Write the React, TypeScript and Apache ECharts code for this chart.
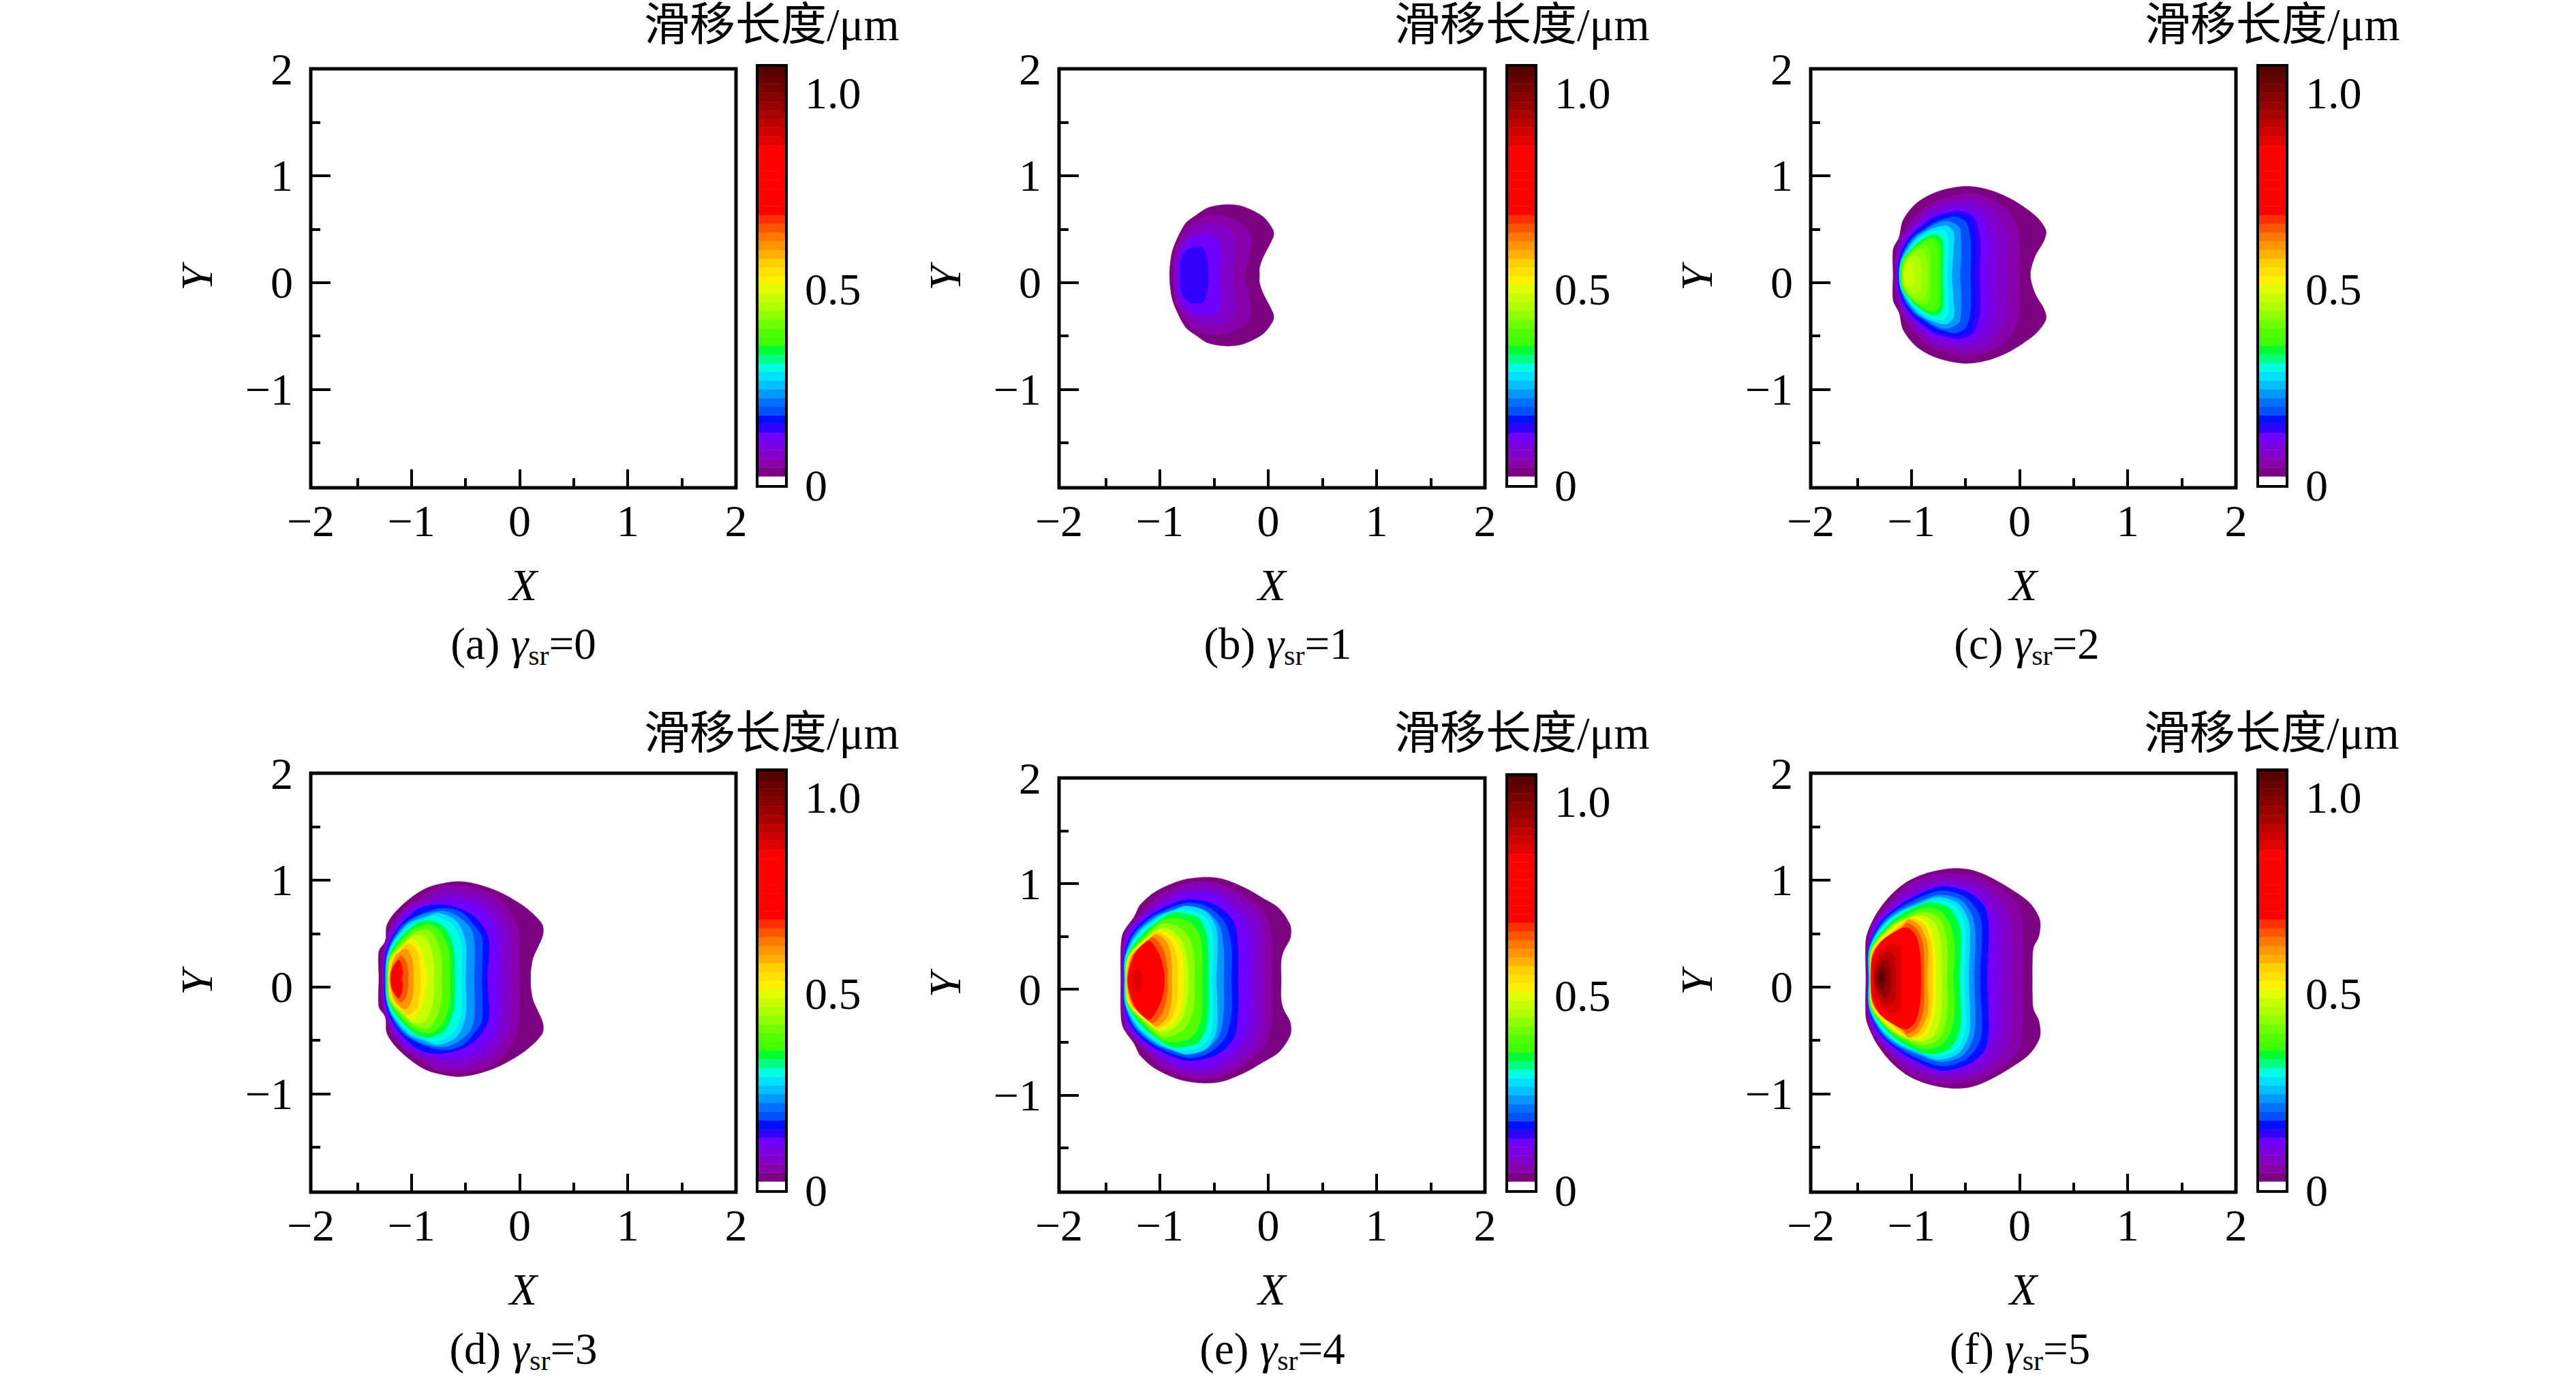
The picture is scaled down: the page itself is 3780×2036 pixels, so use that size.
import React, { useEffect, useRef } from "react";
import * as echarts from "echarts";

const FONT = '"Liberation Serif","Noto Sans CJK SC",serif';

// colour-bar bands, from the bottom of the bar to the top
const bandColors = [
  "#ffffff", "#7b0082", "#8800aa", "#8000c8", "#7a00e0", "#7000ff", "#3000ff", "#0010ff", "#0050ff", "#0070ff",
  "#0098ff", "#00c0ff", "#00e0ff", "#00ffe0", "#00ff80", "#00ff30", "#40ff00", "#50ff00", "#70ff00", "#90ff00",
  "#b0ff00", "#c8ff00", "#e0ff00", "#fff000", "#ffe000", "#ffd000", "#ffb000", "#ff9500", "#ff7800", "#ff5500",
  "#ff3000", "#ff0000", "#ff0000", "#ff0000", "#ff0000", "#ff0000", "#ff0000", "#ff0000", "#ff0000", "#e00000",
  "#d00000", "#c00000", "#a80000", "#980000", "#880000", "#780000", "#680000", "#580000",
];
const bandStep = 0.0222;
const colorBarMax = 1.066;
const colorBarTicks = [0, 0.5, 1];

const xMajor = [-1, 0, 1];
const xMinor = [-1.5, -0.5, 0.5, 1.5];
const xLabels = [-1.93, -1, 0, 1, 2];
const yMajor = [-1, 0, 1];
const yMinor = [-1.5, -0.5, 0.5, 1.5];
const yLabels = [-1, 0, 1, 2];
const axisMin = -1.93;
const axisMax = 2;

// Each row: colour-band index, then x,y pairs of the upper half of that contour,
// from its left end round the top to its right end, in axis units.
type Row = number[];
const contoursA: Row[] = [];
const contoursB: Row[] = [
  [1, -.91,.068, -.893,.255, -.857,.372, -.763,.553, -.668,.628, -.553,.702, -.384,.73, -.237,.713, -.048,.617, .046,.49, .046,.425, -.048,.234, -.08,.138, -.08,.068],
  [2, -.878,.068, -.866,.28, -.77,.49, -.63,.596, -.468,.628, -.3,.585, -.164,.457, -.174,.266, -.216,.068],
  [3, -.857,.068, -.84,.27, -.77,.42, -.64,.52, -.47,.543, -.335,.48, -.3,.33, -.32,.068],
  [5, -.836,.068, -.83,.23, -.78,.35, -.7,.42, -.56,.45, -.46,.4, -.43,.25, -.447,.068],
  [6, -.81,.068, -.805,.2, -.763,.29, -.69,.33, -.6,.32, -.56,.2, -.553,.068],
];
const contoursC: Row[] = [
  [1, -1.168,.072, -1.168,.31, -1.113,.425, -1.076,.585, -.95,.745, -.76,.85, -.508,.9, -.298,.872, -.088,.787, .143,.628, .244,.49, .227,.394, .143,.245, .1,.072],
  [2, -1.15,.072, -1.15,.2, -1.12,.36, -1.07,.47, -.98,.6, -.85,.72, -.7,.79, -.5,.83, -.3,.8, -.12,.69, -.02,.52, 0,.3, 0,.072],
  [3, -1.14,.072, -1.14,.2, -1.1,.36, -1.04,.48, -.96,.58, -.84,.69, -.69,.75, -.52,.785, -.33,.75, -.2,.63, -.12,.46, -.11,.27, -.11,.072],
  [4, -1.135,.072, -1.13,.2, -1.09,.36, -1.02,.47, -.94,.56, -.82,.66, -.69,.71, -.53,.74, -.37,.7, -.27,.58, -.21,.42, -.21,.072],
  [5, -1.13,.072, -1.12,.2, -1.08,.36, -1,.48, -.92,.55, -.8,.64, -.68,.675, -.55,.7, -.42,.66, -.33,.54, -.29,.38, -.3,.072],
  [6, -1.125,.072, -1.115,.2, -1.07,.34, -.99,.46, -.9,.54, -.78,.62, -.68,.65, -.57,.67, -.44,.63, -.38,.5, -.36,.34, -.37,.072],
  [7, -1.12,.072, -1.11,.2, -1.06,.34, -.98,.45, -.89,.52, -.78,.6, -.68,.625, -.58,.638, -.47,.6, -.42,.47, -.41,.3, -.42,.072],
  [8, -1.118,.072, -1.105,.2, -1.05,.34, -.97,.44, -.88,.5, -.77,.57, -.68,.6, -.6,.617, -.5,.57, -.46,.45, -.45,.28, -.455,.072],
  [10, -1.115,.072, -1.1,.2, -1.04,.33, -.96,.43, -.87,.49, -.77,.55, -.67,.575, -.56,.52, -.54,.4, -.54,.24, -.55,.072],
  [12, -1.11,.072, -1.095,.2, -1.03,.32, -.95,.42, -.86,.48, -.76,.52, -.67,.53, -.61,.47, -.61,.32, -.625,.072],
  [13, -1.105,.072, -1.09,.2, -1.02,.31, -.94,.4, -.85,.46, -.76,.49, -.7,.49, -.66,.42, -.66,.25, -.666,.072],
  [15, -1.1,.072, -1.085,.2, -1.01,.3, -.93,.38, -.85,.43, -.78,.45, -.72,.41, -.705,.3, -.71,.072],
  [16, -1.095,.072, -1.08,.2, -1.01,.29, -.93,.36, -.85,.41, -.79,.42, -.74,.36, -.73,.25, -.73,.072],
  [17, -1.09,.072, -1.075,.2, -1.01,.28, -.94,.34, -.87,.38, -.81,.39, -.77,.33, -.76,.22, -.76,.072],
  [18, -1.085,.072, -1.07,.19, -1.02,.27, -.95,.33, -.89,.35, -.84,.33, -.82,.25, -.82,.072],
  [19, -1.08,.072, -1.065,.18, -1.02,.25, -.96,.3, -.91,.31, -.87,.27, -.85,.18, -.85,.072],
  [20, -1.078,.072, -1.06,.17, -1.03,.22, -.98,.25, -.93,.23, -.905,.15, -.905,.072],
  [21, -1.07,.072, -1.06,.14, -1.03,.19, -1,.18, -.975,.12, -.97,.072],
];
const contoursD: Row[] = [
  [1, -1.3,.074, -1.3,.333, -1.24,.43, -1.23,.567, -1.18,.662, -1.07,.78, -.916,.896, -.79,.95, -.58,.987, -.41,.966, -.18,.885, .05,.747, .208,.588, .214,.482, .124,.27, .103,.142, .103,.074],
  [2, -1.27,.074, -1.27,.27, -1.245,.418, -1.18,.588, -1.06,.737, -.88,.86, -.73,.94, -.55,.95, -.38,.92, -.18,.82, -.04,.62, 0,.4, 0,.074],
  [3, -1.265,.074, -1.265,.27, -1.235,.418, -1.165,.588, -1.04,.737, -.87,.82, -.73,.89, -.57,.905, -.41,.87, -.23,.77, -.11,.58, -.075,.35, -.075,.074],
  [4, -1.26,.074, -1.26,.27, -1.225,.418, -1.15,.588, -1.01,.737, -.86,.79, -.73,.84, -.59,.855, -.44,.82, -.27,.72, -.17,.55, -.15,.33, -.15,.074],
  [5, -1.255,.074, -1.255,.27, -1.215,.418, -1.135,.588, -.98,.737, -.86,.78, -.72,.81, -.6,.82, -.46,.78, -.31,.69, -.22,.53, -.2,.31, -.2,.074],
  [7, -1.25,.074, -1.24,.27, -1.2,.418, -1.095,.588, -.92,.737, -.73,.77, -.55,.73, -.41,.65, -.29,.46, -.3,.074],
  [8, -1.245,.074, -1.235,.27, -1.19,.418, -1.075,.588, -.87,.7, -.7,.737, -.54,.7, -.43,.59, -.35,.46, -.35,.074],
  [10, -1.24,.074, -1.23,.27, -1.18,.418, -1.05,.588, -.88,.68, -.7,.71, -.57,.66, -.46,.56, -.42,.43, -.42,.074],
  [12, -1.235,.074, -1.225,.27, -1.17,.418, -1.03,.588, -.88,.65, -.75,.69, -.58,.61, -.5,.42, -.5,.074],
  [13, -1.23,.074, -1.22,.27, -1.16,.418, -1.01,.57, -.88,.63, -.78,.66, -.62,.58, -.54,.4, -.54,.074],
  [15, -1.228,.074, -1.21,.27, -1.135,.418, -.96,.588, -.83,.62, -.685,.545, -.61,.355, -.6,.074],
  [17, -1.22,.074, -1.205,.27, -1.11,.418, -.98,.54, -.82,.58, -.72,.5, -.65,.33, -.64,.074],
  [19, -1.215,.074, -1.2,.27, -1.08,.418, -.97,.51, -.85,.535, -.77,.44, -.72,.25, -.72,.074],
  [21, -1.212,.074, -1.19,.27, -1.05,.418, -.98,.482, -.88,.47, -.82,.36, -.79,.2, -.79,.074],
  [23, -1.21,.074, -1.18,.27, -1.07,.38, -1,.45, -.916,.355, -.863,.142, -.853,.074],
  [25, -1.205,.074, -1.17,.27, -1.09,.36, -1.03,.41, -.95,.34, -.92,.18, -.916,.074],
  [27, -1.2,.074, -1.155,.27, -1.09,.34, -1.05,.355, -1,.28, -.98,.16, -.98,.074],
  [29, -1.195,.074, -1.17,.2, -1.13,.26, -1.095,.29, -1.05,.24, -1.03,.14, -1.03,.074],
  [31, -1.19,.074, -1.18,.16, -1.115,.25, -1.08,.14, -1.09,.074],
];
const contoursE: Row[] = [
  [1, -1.36,.086, -1.36,.38, -1.34,.53, -1.235,.69, -1.18,.8, -1.036,.927, -.805,1.03, -.595,1.06, -.426,1.045, -.216,.96, -.048,.862, .1,.766, .204,.604, .204,.486, .14,.357, .12,.27, .12,.086],
  [2, -1.35,.086, -1.35,.314, -1.32,.53, -1.2,.69, -1.02,.88, -.8,.99, -.6,1.02, -.42,.99, -.22,.89, -.03,.72, .03,.5, .036,.3, .036,.086],
  [3, -1.345,.086, -1.345,.314, -1.31,.53, -1.18,.69, -1,.85, -.8,.95, -.6,.985, -.44,.95, -.26,.85, -.09,.68, -.04,.46, -.04,.086],
  [4, -1.342,.086, -1.34,.314, -1.3,.53, -1.165,.69, -.99,.82, -.8,.92, -.62,.95, -.46,.91, -.3,.8, -.15,.64, -.11,.44, -.11,.086],
  [5, -1.34,.086, -1.335,.314, -1.288,.53, -1.15,.69, -.98,.8, -.8,.89, -.64,.915, -.48,.88, -.34,.78, -.21,.6, -.175,.4, -.175,.086],
  [7, -1.334,.086, -1.33,.314, -1.256,.53, -1.1,.69, -.9,.8, -.72,.85, -.47,.787, -.32,.637, -.28,.4, -.28,.086],
  [8, -1.332,.086, -1.325,.314, -1.24,.53, -1.07,.69, -.88,.78, -.72,.82, -.54,.77, -.4,.63, -.34,.4, -.34,.086],
  [10, -1.328,.086, -1.32,.314, -1.225,.53, -1.04,.69, -.86,.76, -.74,.79, -.57,.74, -.45,.6, -.41,.35, -.41,.086],
  [12, -1.324,.086, -1.315,.314, -1.204,.53, -1.015,.69, -.87,.75, -.76,.787, -.573,.733, -.48,.57, -.47,.314, -.48,.086],
  [13, -1.322,.086, -1.31,.314, -1.19,.53, -.98,.69, -.85,.74, -.78,.755, -.6,.7, -.52,.55, -.51,.3, -.52,.086],
  [15, -1.315,.086, -1.3,.314, -1.15,.53, -.99,.66, -.89,.72, -.805,.72, -.64,.67, -.563,.486, -.553,.086],
  [17, -1.313,.086, -1.295,.314, -1.12,.53, -1,.64, -.93,.67, -.83,.67, -.7,.62, -.62,.46, -.61,.086],
  [19, -1.31,.086, -1.29,.314, -1.09,.53, -1.02,.6, -.95,.625, -.85,.6, -.75,.52, -.69,.36, -.68,.086],
  [21, -1.31,.086, -1.285,.314, -1.07,.53, -.97,.58, -.87,.54, -.78,.42, -.74,.2, -.74,.086],
  [23, -1.308,.086, -1.28,.314, -1.05,.53, -1,.56, -.87,.486, -.795,.314, -.784,.086],
  [25, -1.305,.086, -1.27,.314, -1.1,.48, -1.02,.54, -.9,.46, -.84,.28, -.835,.086],
  [27, -1.302,.086, -1.26,.314, -1.12,.45, -1.03,.52, -.93,.43, -.89,.25, -.89,.086],
  [29, -1.3,.086, -1.25,.314, -1.14,.44, -1.06,.49, -.97,.38, -.93,.2, -.93,.086],
  [31, -1.296,.086, -1.24,.314, -1.16,.42, -1.09,.455, -1,.314, -.96,.16, -.96,.086],
  [39, -1.25,.086, -1.245,.16, -1.2,.2, -1.17,.16, -1.16,.086],
];
const contoursF: Row[] = [
  [1, -1.42,.08, -1.42,.44, -1.38,.57, -1.31,.705, -1.185,.864, -1.03,.99, -.84,1.07, -.63,1.108, -.46,1.098, -.31,1.045, -.1,.928, .09,.79, .187,.63, .18,.48, .128,.365, .118,.2, .118,.08],
  [2, -1.41,.08, -1.408,.355, -1.37,.567, -1.29,.694, -1.03,.96, -.73,1.065, -.4,1.03, -.19,.93, 0,.74, .03,.46, .03,.08],
  [3, -1.408,.08, -1.405,.355, -1.36,.567, -1.27,.694, -1.02,.92, -.73,1.02, -.42,.99, -.25,.88, -.1,.7, -.07,.42, -.07,.08],
  [4, -1.405,.08, -1.4,.355, -1.35,.567, -1.255,.694, -1.01,.88, -.73,.98, -.45,.95, -.3,.85, -.18,.66, -.155,.4, -.155,.08],
  [5, -1.403,.08, -1.398,.355, -1.34,.567, -1.24,.694, -1,.85, -.73,.95, -.48,.92, -.35,.82, -.25,.63, -.23,.38, -.23,.08],
  [7, -1.4,.08, -1.395,.355, -1.31,.567, -1.195,.694, -.98,.84, -.72,.94, -.48,.885, -.33,.76, -.29,.59, -.3,.08],
  [8, -1.398,.08, -1.393,.355, -1.3,.567, -1.175,.694, -.96,.82, -.72,.9, -.52,.85, -.4,.73, -.35,.58, -.365,.08],
  [10, -1.395,.08, -1.39,.355, -1.285,.567, -1.15,.694, -.95,.79, -.74,.86, -.54,.81, -.44,.67, -.41,.5, -.42,.08],
  [12, -1.39,.08, -1.385,.355, -1.27,.567, -1.12,.694, -.93,.78, -.75,.84, -.565,.78, -.47,.61, -.46,.42, -.47,.08],
  [13, -1.387,.08, -1.382,.355, -1.26,.567, -1.1,.694, -.92,.76, -.77,.81, -.6,.76, -.51,.6, -.5,.4, -.51,.08],
  [15, -1.382,.08, -1.375,.355, -1.225,.567, -1.07,.694, -.93,.76, -.82,.79, -.65,.74, -.555,.567, -.545,.355, -.555,.08],
  [17, -1.38,.08, -1.37,.355, -1.205,.567, -1.03,.68, -.88,.74, -.72,.7, -.63,.56, -.6,.35, -.61,.08],
  [19, -1.38,.08, -1.365,.355, -1.19,.567, -1.04,.65, -.9,.7, -.76,.66, -.69,.53, -.665,.33, -.67,.08],
  [21, -1.378,.08, -1.36,.355, -1.17,.567, -1.05,.63, -.91,.67, -.8,.62, -.74,.49, -.72,.3, -.72,.08],
  [23, -1.377,.08, -1.355,.355, -1.15,.567, -1.05,.62, -.94,.65, -.85,.59, -.8,.46, -.775,.29, -.775,.08],
  [25, -1.376,.08, -1.35,.355, -1.12,.567, -1.03,.63, -.98,.64, -.88,.58, -.82,.42, -.805,.25, -.805,.08],
  [27, -1.375,.08, -1.34,.355, -1.09,.567, -1.03,.63, -.97,.61, -.92,.567, -.85,.4, -.85,.08],
  [29, -1.375,.08, -1.325,.355, -1.2,.47, -1.07,.567, -1.04,.6, -.95,.54, -.89,.38, -.88,.08],
  [31, -1.374,.08, -1.363,.27, -1.3,.4, -1.21,.48, -1.05,.556, -.96,.48, -.92,.31, -.91,.08],
  [39, -1.35,.08, -1.34,.25, -1.22,.39, -1.11,.39, -1.09,.13, -1.09,.08],
  [41, -1.345,.08, -1.32,.22, -1.24,.33, -1.16,.3, -1.14,.15, -1.14,.08],
  [43, -1.335,.08, -1.31,.19, -1.25,.26, -1.2,.22, -1.185,.12, -1.185,.08],
  [45, -1.32,.08, -1.3,.16, -1.26,.19, -1.24,.14, -1.23,.08],
  [47, -1.3,.08, -1.29,.12, -1.265,.13, -1.26,.08],
];

const panelLetters = ["a", "b", "c", "d", "e", "f"];
const panelGamma = [0, 1, 2, 3, 4, 5];
const panelContours = [contoursA, contoursB, contoursC, contoursD, contoursE, contoursF];

// page layout of the six panels, in pixels
const frames = [
  { l: 456, r: 1080, t: 101, b: 716, cl: 1113, cr: 1152, ct: 98, cb: 712, capX: 768, capY: 945, unitX: 945, unitY: 36 },
  { l: 1554, r: 2179, t: 101, b: 716, cl: 2213, cr: 2252, ct: 98, cb: 712, capX: 1875, capY: 945, unitX: 2046, unitY: 36 },
  { l: 2657, r: 3281, t: 101, b: 716, cl: 3315, cr: 3354, ct: 98, cb: 712, capX: 2974, capY: 945, unitX: 3147, unitY: 36 },
  { l: 456, r: 1080, t: 1135, b: 1750, cl: 1113, cr: 1152, ct: 1132, cb: 1747, capX: 768, capY: 1980, unitX: 945, unitY: 1076 },
  { l: 1554, r: 2179, t: 1142, b: 1750, cl: 2213, cr: 2252, ct: 1139, cb: 1747, capX: 1867, capY: 1980, unitX: 2046, unitY: 1076 },
  { l: 2657, r: 3281, t: 1135, b: 1750, cl: 3315, cr: 3354, ct: 1132, cb: 1747, capX: 2964, capY: 1980, unitX: 3146, unitY: 1076 },
];

const FS = 66;
const CAP = 65;
const fmtMain = (v: number) => {
  if (v < -1.5) return "\u22122";
  if (v < 0) return "\u2212" + Math.abs(v);
  return String(v);
};

function halfToPolygon(row: Row): number[][] {
  const top: number[][] = [];
  for (let i = 1; i + 1 < row.length; i += 2) top.push([row[i], row[i + 1]]);
  const yc = top[0][1];
  const bottom = top.slice(1, -1).reverse().map(([x, y]) => [x, 2 * yc - y]);
  return top.concat(bottom);
}

function buildOption() {
  const grid: any[] = [];
  const xAxis: any[] = [];
  const yAxis: any[] = [];
  const series: any[] = [];
  const graphic: any[] = [];

  frames.forEach((f, i) => {
    const mainGrid = grid.length;
    grid.push({
      left: f.l, top: f.t, width: f.r - f.l, height: f.b - f.t, show: true,
      borderColor: "#000", borderWidth: 5, backgroundColor: "#fff", containLabel: false, outerBoundsMode: "none",
    });
    const barGrid = grid.length;
    grid.push({
      left: f.cl, top: f.ct, width: f.cr - f.cl, height: f.cb - f.ct, show: true,
      borderColor: "#000", borderWidth: 8, backgroundColor: "#fff", containLabel: false, outerBoundsMode: "none",
    });

    const mainX = xAxis.length;
    xAxis.push({
      type: "value", gridIndex: mainGrid, position: "bottom", min: axisMin, max: axisMax, splitLine: { show: false },
      axisLine: { show: false, onZero: false },
      axisTick: { show: true, inside: true, length: 27, lineStyle: { color: "#000", width: 4 }, customValues: xMajor },
      axisLabel: { show: true, customValues: xLabels, formatter: fmtMain, margin: 15, fontSize: FS, fontFamily: FONT, color: "#000", hideOverlap: false },
      name: "X", nameLocation: "middle", nameGap: 109,
      nameTextStyle: { fontSize: FS, fontFamily: FONT, fontStyle: "italic", color: "#000" },
    });
    xAxis.push({
      type: "value", gridIndex: mainGrid, position: "bottom", min: axisMin, max: axisMax, splitLine: { show: false },
      axisLine: { show: false, onZero: false }, axisLabel: { show: false },
      axisTick: { show: true, inside: true, length: 14, lineStyle: { color: "#000", width: 4 }, customValues: xMinor },
    });
    const barX = xAxis.length;
    xAxis.push({ type: "value", gridIndex: barGrid, min: 0, max: 1, show: false });

    const mainY = yAxis.length;
    yAxis.push({
      type: "value", gridIndex: mainGrid, position: "left", min: axisMin + 0.01, max: axisMax, splitLine: { show: false },
      axisLine: { show: false, onZero: false },
      axisTick: { show: true, inside: true, length: 29, lineStyle: { color: "#000", width: 4 }, customValues: yMajor },
      axisLabel: { show: true, customValues: yLabels, formatter: fmtMain, margin: 26, padding: [0, 0, 12, 0], fontSize: FS, fontFamily: FONT, color: "#000", hideOverlap: false },
      name: "Y", nameLocation: "middle", nameGap: 135,
      nameTextStyle: { fontSize: FS, fontFamily: FONT, fontStyle: "italic", color: "#000" },
    });
    yAxis.push({
      type: "value", gridIndex: mainGrid, position: "left", min: axisMin + 0.01, max: axisMax, splitLine: { show: false },
      axisLine: { show: false, onZero: false }, axisLabel: { show: false },
      axisTick: { show: true, inside: true, length: 14, lineStyle: { color: "#000", width: 4 }, customValues: yMinor },
    });
    const barY = yAxis.length;
    yAxis.push({
      type: "value", gridIndex: barGrid, position: "right", min: 0, max: colorBarMax, splitLine: { show: false },
      axisLine: { show: false, onZero: false }, axisTick: { show: false },
      axisLabel: {
        show: true, customValues: colorBarTicks, margin: 29, fontSize: FS, fontFamily: FONT, color: "#000", hideOverlap: false,
        formatter: (v: number) => (v === 0 ? "0" : v.toFixed(1)),
      },
    });

    const rows = panelContours[i];
    series.push({
      type: "custom", coordinateSystem: "cartesian2d", xAxisIndex: mainX, yAxisIndex: mainY, silent: true, clip: true,
      data: rows.map((_, k) => [k, 0]),
      renderItem: (p: any, api: any) => {
        const row = rows[p.dataIndex];
        return {
          type: "polygon",
          shape: { points: halfToPolygon(row).map((pt) => api.coord(pt)), smooth: 0.3 },
          style: { fill: bandColors[row[0]], stroke: bandColors[row[0]], lineWidth: 0.5 },
        };
      },
    });
    series.push({
      type: "custom", coordinateSystem: "cartesian2d", xAxisIndex: barX, yAxisIndex: barY, silent: true, clip: true, z: 1,
      data: bandColors.map((_, k) => [k, 0]),
      renderItem: (p: any, api: any) => {
        const k = p.dataIndex;
        const a = api.coord([0, k * bandStep]);
        const b = api.coord([1, (k + 1) * bandStep]);
        return {
          type: "rect",
          shape: { x: a[0], y: b[1], width: b[0] - a[0], height: a[1] - b[1] },
          style: { fill: bandColors[k], stroke: bandColors[k], lineWidth: 0.5 },
        };
      },
    });

    graphic.push({
      type: "text", x: f.unitX, y: f.unitY, silent: true,
      style: { text: "滑移长度/μm", fontSize: 67, fontFamily: FONT, fill: "#000", align: "left", verticalAlign: "middle" },
    });
    graphic.push({
      type: "text", x: f.capX, y: f.capY, silent: true,
      style: {
        text: `{n|(${panelLetters[i]}) }{g|γ}{s|sr}{n|=${panelGamma[i]}}`,
        fontSize: CAP, fontFamily: FONT, fill: "#000", align: "center", verticalAlign: "middle",
        rich: {
          n: { fontSize: CAP, fontFamily: FONT, fill: "#000", lineHeight: 76 },
          g: { fontSize: CAP, fontFamily: FONT, fontStyle: "italic", fill: "#000", lineHeight: 76 },
          s: { fontSize: 42, fontFamily: FONT, fill: "#000", lineHeight: 42, verticalAlign: "bottom" },
        },
      },
    });
  });

  return { animation: false, backgroundColor: "#fff", grid, xAxis, yAxis, series, graphic };
}

export default function App() {
  const ref = useRef<HTMLDivElement>(null);
  useEffect(() => {
    if (!ref.current) return;
    const chart = echarts.init(ref.current, undefined, { renderer: "svg" });
    chart.setOption(buildOption());
    return () => chart.dispose();
  }, []);
  return <div ref={ref} style={{ position: "fixed", left: 0, top: 0, width: 3780, height: 2036, background: "#fff" }} />;
}
